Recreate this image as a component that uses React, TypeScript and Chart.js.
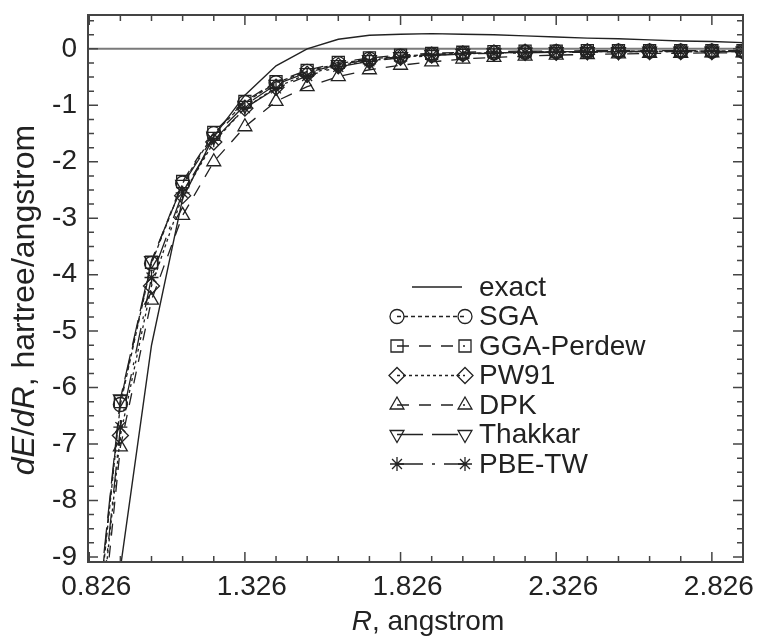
import React, { useEffect, useRef } from 'react';
import { Chart, registerables } from 'chart.js';
import { drawPoint } from 'chart.js/helpers';

Chart.register(...registerables);

// R values (angstrom)
const R_VALUES = [0.826, 0.926, 1.026, 1.126, 1.226, 1.326, 1.426, 1.526, 1.626, 1.726, 1.826, 1.926, 2.026, 2.126, 2.226, 2.326, 2.426, 2.526, 2.626, 2.726, 2.826, 2.926];

const EXACT = [-14.5, -9.2, -5.25, -2.65, -1.55, -0.82, -0.3, 0.0, 0.17, 0.24, 0.26, 0.27, 0.26, 0.25, 0.23, 0.21, 0.19, 0.18, 0.16, 0.14, 0.13, 0.11];
const SGA = [-11.6, -6.3, -3.8, -2.38, -1.5, -0.95, -0.6, -0.4, -0.26, -0.18, -0.13, -0.1, -0.08, -0.07, -0.06, -0.05, -0.05, -0.04, -0.04, -0.04, -0.04, -0.04];
const GGA_PERDEW = [-11.5, -6.25, -3.78, -2.35, -1.48, -0.93, -0.58, -0.38, -0.24, -0.16, -0.11, -0.08, -0.06, -0.05, -0.04, -0.04, -0.03, -0.03, -0.03, -0.03, -0.03, -0.03];
const PW91 = [-12.0, -6.85, -4.2, -2.6, -1.65, -1.05, -0.68, -0.45, -0.3, -0.21, -0.15, -0.11, -0.09, -0.07, -0.06, -0.06, -0.05, -0.05, -0.05, -0.05, -0.05, -0.05];
const DPK = [-12.5, -7.05, -4.45, -2.95, -2.0, -1.38, -0.93, -0.67, -0.49, -0.37, -0.29, -0.23, -0.18, -0.15, -0.13, -0.11, -0.1, -0.09, -0.08, -0.08, -0.07, -0.07];
const THAKKAR = [-11.4, -6.2, -3.75, -2.4, -1.55, -1.0, -0.63, -0.42, -0.28, -0.19, -0.14, -0.1, -0.08, -0.07, -0.06, -0.05, -0.05, -0.05, -0.04, -0.04, -0.04, -0.04];
const PBE_TW = [-12.0, -6.7, -4.05, -2.55, -1.62, -1.05, -0.7, -0.48, -0.32, -0.22, -0.16, -0.12, -0.09, -0.08, -0.07, -0.06, -0.06, -0.05, -0.05, -0.05, -0.05, -0.05];

const SERIES_NAMES = ['exact', 'SGA', 'GGA-Perdew', 'PW91', 'DPK', 'Thakkar', 'PBE-TW'];

const X_TICKS = [0.826, 1.326, 1.826, 2.326, 2.826];
const Y_TICKS = [0, -1, -2, -3, -4, -5, -6, -7, -8, -9];

const X_MIN = 0.822;
const X_MAX = 2.926;
const Y_MIN = -9.09;
const Y_MAX = 0.6;

const FONT = '"Liberation Sans", Arial, Helvetica, sans-serif';
const INK = '#222222';

const STYLES = [
  { dash: [], pointStyle: false as any, radius: 0, rotation: 0 },
  { dash: [4, 3], pointStyle: 'circle', radius: 7, rotation: 0 },
  { dash: [12, 10], pointStyle: 'rect', radius: 8.5, rotation: 0 },
  { dash: [3, 3], pointStyle: 'rectRot', radius: 8, rotation: 0 },
  { dash: [12, 10], pointStyle: 'triangle', radius: 8, rotation: 0 },
  { dash: [26, 9], pointStyle: 'triangle', radius: 8, rotation: 180 },
  { dash: [26, 9, 3, 9], pointStyle: 'star', radius: 7, rotation: 0 },
];

const SERIES_VALUES = [EXACT, SGA, GGA_PERDEW, PW91, DPK, THAKKAR, PBE_TW];

const framePlugin = {
  id: 'frameAndLegend',
  beforeDatasetsDraw(chart: any) {
    const { ctx, chartArea: a, scales } = chart;
    const y0 = scales.y.getPixelForValue(0);
    ctx.save();
    ctx.strokeStyle = '#7a7a7a';
    ctx.lineWidth = 2;
    ctx.beginPath();
    ctx.moveTo(a.left, y0);
    ctx.lineTo(a.right, y0);
    ctx.stroke();
    ctx.restore();
  },
  afterDraw(chart: any) {
    const { ctx, chartArea: a, scales } = chart;
    const xs = scales.x;
    const ys = scales.y;
    ctx.save();
    // frame
    ctx.strokeStyle = '#444444';
    ctx.lineWidth = 2;
    ctx.strokeRect(a.left, a.top, a.right - a.left, a.bottom - a.top);
    // ticks
    ctx.lineWidth = 1.5;
    ctx.beginPath();
    for (let k = 0; k <= 21; k++) {
      const v = 0.826 + k * 0.1;
      if (v > X_MAX + 1e-6) break;
      const px = xs.getPixelForValue(v);
      const major = k % 5 === 0;
      const len = major ? 10 : 6;
      ctx.moveTo(px, a.bottom);
      ctx.lineTo(px, a.bottom - len);
      ctx.moveTo(px, a.top);
      ctx.lineTo(px, a.top + len);
    }
    for (let k = 0; k <= 38; k++) {
      const v = -9 + k * 0.25;
      if (v > Y_MAX + 1e-6) break;
      const py = ys.getPixelForValue(v);
      const major = k % 4 === 0;
      const len = major ? 10 : 6;
      ctx.moveTo(a.left, py);
      ctx.lineTo(a.left + len, py);
      ctx.moveTo(a.right, py);
      ctx.lineTo(a.right - len, py);
    }
    ctx.stroke();

    // legend
    const lx0 = 397;
    const lx1 = 465;
    const ly0 = 287;
    const lstep = 29.5;
    ctx.font = `28px ${FONT}`;
    ctx.textBaseline = 'middle';
    ctx.textAlign = 'left';
    chart.data.datasets.forEach((ds: any, i: number) => {
      const st = STYLES[i];
      const y = ly0 + i * lstep;
      ctx.strokeStyle = INK;
      ctx.lineWidth = 1.3;
      ctx.setLineDash(st.dash);
      ctx.beginPath();
      if (i === 0) {
        ctx.moveTo(412, y);
        ctx.lineTo(462, y);
      } else {
        ctx.moveTo(lx0, y);
        ctx.lineTo(lx1, y);
      }
      ctx.stroke();
      ctx.setLineDash([]);
      if (st.pointStyle) {
        const opts = { pointStyle: st.pointStyle, radius: st.radius, rotation: st.rotation, borderWidth: 1.3 };
        ctx.fillStyle = 'rgba(255,255,255,0)';
        ctx.strokeStyle = INK;
        ctx.lineWidth = 1.3;
        drawPoint(ctx, opts as any, lx0, y);
        ctx.fillStyle = 'rgba(255,255,255,0)';
        ctx.strokeStyle = INK;
        drawPoint(ctx, opts as any, lx1, y);
      }
      ctx.fillStyle = INK;
      ctx.fillText(SERIES_NAMES[i], 479, y + 1);
    });

    // axis titles
    ctx.fillStyle = INK;
    ctx.textBaseline = 'alphabetic';
    // x title
    {
      const italic = `italic 28px ${FONT}`;
      const normal = `28px ${FONT}`;
      ctx.font = italic;
      const w1 = ctx.measureText('R').width;
      ctx.font = normal;
      const w2 = ctx.measureText(', angstrom').width;
      const cx = 428;
      const start = cx - (w1 + w2) / 2;
      const base = 630;
      ctx.font = italic;
      ctx.fillText('R', start, base);
      ctx.font = normal;
      ctx.fillText(', angstrom', start + w1, base);
    }
    // y title
    {
      const italic = `italic 32px ${FONT}`;
      const normal = `32px ${FONT}`;
      ctx.save();
      ctx.translate(34, 300);
      ctx.rotate(-Math.PI / 2);
      const parts: [string, string][] = [['dE', italic], ['/', normal], ['dR', italic], [', hartree/angstrom', normal]];
      let total = 0;
      parts.forEach(([t, f]) => { ctx.font = f; total += ctx.measureText(t).width; });
      let x = -total / 2;
      parts.forEach(([t, f]) => {
        ctx.font = f;
        ctx.fillText(t, x, 0);
        x += ctx.measureText(t).width;
      });
      ctx.restore();
    }
    ctx.restore();
  },
};

export default function App() {
  const ref = useRef<HTMLCanvasElement | null>(null);
  useEffect(() => {
    if (!ref.current) return;
    const datasets = SERIES_VALUES.map((vals, i) => {
      const st = STYLES[i];
      return {
        label: SERIES_NAMES[i],
        data: R_VALUES.map((x, j) => ({ x, y: vals[j] })),
        borderColor: INK,
        borderWidth: i === 0 ? 1.4 : 1.3,
        borderDash: st.dash,
        pointStyle: st.pointStyle,
        pointRadius: st.radius,
        pointRotation: st.rotation,
        pointBorderColor: INK,
        pointBackgroundColor: 'rgba(255,255,255,0)',
        pointBorderWidth: 1.3,
        tension: 0,
        fill: false,
      };
    });
    const chart = new Chart(ref.current, {
      type: 'line',
      data: { datasets },
      options: {
        animation: false,
        responsive: false,
        maintainAspectRatio: false,
        layout: { padding: { left: 0, right: 16, top: 15, bottom: 0 } },
        plugins: { legend: { display: false }, tooltip: { enabled: false }, title: { display: false } },
        scales: {
          x: {
            type: 'linear',
            min: X_MIN,
            max: X_MAX,
            grid: { display: false, drawTicks: false },
            border: { display: false },
            afterBuildTicks: (s: any) => { s.ticks = X_TICKS.map((v) => ({ value: v })); },
            afterFit: (s: any) => { s.height = 76; s.paddingLeft = 0; s.paddingRight = 0; },
            ticks: {
              color: INK,
              font: { family: FONT, size: 28 },
              padding: 8,
              labelOffset: 7,
              maxRotation: 0,
              autoSkip: false,
              callback: (v: any) => Number(v).toFixed(3),
            },
          },
          y: {
            type: 'linear',
            min: Y_MIN,
            max: Y_MAX,
            grid: { display: false, drawTicks: false },
            border: { display: false },
            afterBuildTicks: (s: any) => { s.ticks = Y_TICKS.map((v) => ({ value: v })); },
            afterFit: (s: any) => { s.width = 88; s.paddingTop = 0; s.paddingBottom = 0; },
            ticks: {
              color: INK,
              font: { family: FONT, size: 28 },
              padding: 11,
              autoSkip: false,
              callback: (v: any) => String(v),
            },
          },
        },
      },
      plugins: [framePlugin],
    });
    return () => chart.destroy();
  }, []);
  return (
    <div style={{ position: 'fixed', left: 0, top: 0, width: 759, height: 638, background: '#fff' }}>
      <canvas ref={ref} width={759} height={638} style={{ width: 759, height: 638 }} />
    </div>
  );
}
